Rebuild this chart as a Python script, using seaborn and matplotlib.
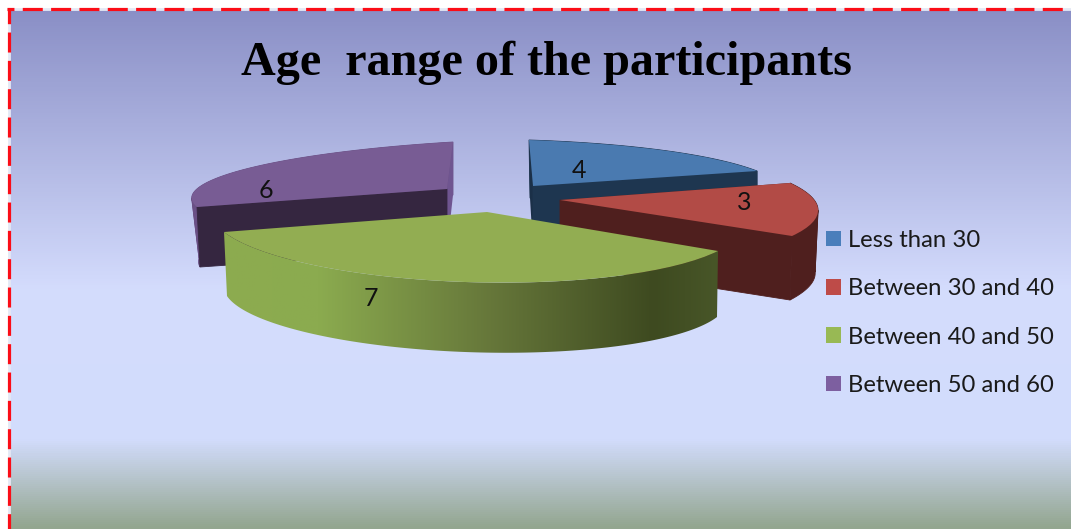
import numpy as np
import matplotlib
matplotlib.use("Agg")
import matplotlib.pyplot as plt
from matplotlib.colors import LinearSegmentedColormap
from matplotlib.patches import Polygon
from matplotlib.transforms import Transform
import seaborn as sns

# ---- data ----
categories = ["Less than 30", "Between 30 and 40", "Between 40 and 50", "Between 50 and 60"]
values = [4, 3, 7, 6]
title = "Age  range of the participants"

# ---- style ----
sns.set_theme(style="white")
plt.rcParams["lines.scale_dashes"] = False
top_colors = sns.color_palette(["#4a7ab0", "#b24b46", "#92ad52", "#785c94"])
legend_colors = sns.color_palette(["#4a7ebb", "#be4b48", "#98b954", "#7d5fa0"])
arc_colors = ["#1e3650", "#4f1f1e", "#8dab50", "#6a5085"]
front_colors = ["#1e3650", "#4f1f1e", "#4a5a28", "#352640"]
back_colors = ["#1b3048", "#4f1f1e", "#4a5a28", "#6f5590"]
stacking = [11, 12, 13, 10]

# projected layout of each extruded slice, in pixels (apex, rim start, rim middle, rim end),
# for its top face and for its bottom face
layout = [
    dict(top=[(533, 186), (757, 171), (668, 151), (529, 140)],
         bottom=[(533, 248), (757, 233), (668, 213), (530, 198)], label=(579, 171)),
    dict(top=[(560, 200), (792, 236), (818, 209), (790, 183)],
         bottom=[(560, 264), (790, 300), (815, 271), (788, 247)], label=(744, 203)),
    dict(top=[(487, 212), (224, 232), (465, 282), (718, 251)],
         bottom=[(487, 279), (227, 296), (465, 352), (717, 317)], label=(371, 299)),
    dict(top=[(447, 189), (453, 142), (242, 170), (197, 207)],
         bottom=[(447, 250), (453, 195), (244, 232), (200, 267)], label=(266, 190)),
]


def homography(src, dst):
    rows, rhs = [], []
    for (x, y), (u, v) in zip(src, dst):
        rows.append([x, y, 1, 0, 0, 0, -u * x, -u * y])
        rows.append([0, 0, 0, x, y, 1, -v * x, -v * y])
        rhs += [u, v]
    return np.append(np.linalg.solve(np.array(rows, float), np.array(rhs, float)), 1).reshape(3, 3)


class Perspective(Transform):
    input_dims = output_dims = 2

    def __init__(self, matrix):
        super().__init__()
        self.matrix = matrix

    def transform_non_affine(self, xy):
        xy = np.asarray(xy, float)
        p = np.column_stack([xy, np.ones(len(xy))]) @ self.matrix.T
        return p[:, :2] / p[:, 2:]


W, H = 1071, 529
fig = plt.figure(figsize=(W / 100, H / 100), dpi=100, facecolor="white")
ax = fig.add_axes([0, 0, 1, 1])

wedges, _ = ax.pie(values, startangle=90, counterclock=False, radius=1,
                   center=(0, 0), colors=top_colors, frame=False,
                   wedgeprops=dict(linewidth=0))
ax.set_aspect("auto")

# background gradient
bg_cmap = LinearSegmentedColormap.from_list("bg", [
    (0.00, "#8a8fc6"), (0.54, "#d4dcfd"), (0.83, "#d2dcfc"), (1.00, "#93a68f")])
ax.imshow(np.linspace(0, 1, 520)[:, None], cmap=bg_cmap, aspect="auto",
          extent=(9, W, H, 9), zorder=0, vmin=0, vmax=1)

green_cmap = LinearSegmentedColormap.from_list("side", [
    (0.00, "#8dab50"), (0.19, "#8bab4f"), (0.54, "#66773a"),
    (0.87, "#3e4a20"), (1.00, "#485628")])

for i, (w, lay) in enumerate(zip(wedges, layout)):
    order = stacking[i]
    t1, t2 = np.radians(w.theta1), np.radians(w.theta2)
    tm = (t1 + t2) / 2
    src = [(0, 0), (np.cos(t1), np.sin(t1)), (np.cos(tm), np.sin(tm)), (np.cos(t2), np.sin(t2))]
    top = Perspective(homography(src, lay["top"]))
    bot = Perspective(homography(src, lay["bottom"]))
    th = np.linspace(t1, t2, 160)
    unit = np.column_stack([np.cos(th), np.sin(th)])
    arc_t, arc_b = top.transform(unit), bot.transform(unit)

    # the rim band folds at its horizontal extreme, so fill it in two parts
    k = int(np.argmax(np.abs(arc_t[:, 0] - lay["top"][0][0])))
    parts = [(0, k + 1), (k, len(th))]
    for s, e in parts:
        if e - s < 2:
            continue
        side = np.vstack([arc_t[s:e], arc_b[s:e][::-1]])
        if i == 2:
            clip = Polygon(side, transform=ax.transData)
            im = ax.imshow(np.linspace(0, 1, 256)[None, :], cmap=green_cmap, aspect="auto",
                           extent=(224, 718, side[:, 1].max(), side[:, 1].min()),
                           zorder=order, vmin=0, vmax=1)
            im.set_clip_path(clip)
        else:
            ax.fill(side[:, 0], side[:, 1], color=arc_colors[i], lw=0.6, zorder=order)

    a_t, a_b = np.array(lay["top"][0], float), np.array(lay["bottom"][0], float)
    first = np.array([a_t, arc_t[0], arc_b[0], a_b])
    last = np.array([a_t, arc_t[-1], arc_b[-1], a_b])
    # the cut face that looks towards the viewer is painted last
    back, front = (last, first) if i in (0, 1) else (first, last)
    if i != 2:
        ax.fill(back[:, 0], back[:, 1], color=back_colors[i], lw=0, zorder=order + 0.1)
        ax.fill(front[:, 0], front[:, 1], color=front_colors[i], lw=0.6, zorder=order + 0.2)

    w.set_transform(top + ax.transData)
    w.set_zorder(order + 0.3)
    ax.text(lay["label"][0], lay["label"][1], str(values[i]), family="Lato", fontsize=18,
            color="#111111", ha="center", va="center", zorder=50)

# dashed border
for xs, ys, off in [((8.5, 8.5), (8, H), 3.1), ((7, W), (9, 9), 9.4)]:
    ax.plot(xs, ys, color="#e4e8f4", lw=2.0, zorder=60, solid_capstyle="butt")
    ax.plot(xs, ys, color="#fb0d17", lw=2.3, zorder=61, dash_capstyle="butt",
            linestyle=(off, (14.4, 6.0)))

ax.set_xlim(0, W)
ax.set_ylim(H, 0)
ax.set_axis_off()

ax.text(546, 63, title, family="Liberation Serif", weight="bold", fontsize=34.7,
        color="black", ha="center", va="center", zorder=50)

handles = [plt.Rectangle((0, 0), 1, 1, facecolor=c, edgecolor="none") for c in legend_colors]
leg = ax.legend(handles, categories, loc="center left", bbox_to_anchor=(826 / W, 1 - 313 / H),
                bbox_transform=fig.transFigure, frameon=False, borderpad=0, borderaxespad=0,
                prop=dict(family="Lato", size=17.2), labelcolor="#1a1a1a",
                handlelength=0.63, handleheight=0.63, handletextpad=0.29, labelspacing=1.146)
leg.set_zorder(50)

fig.savefig("out.png", dpi=100)
